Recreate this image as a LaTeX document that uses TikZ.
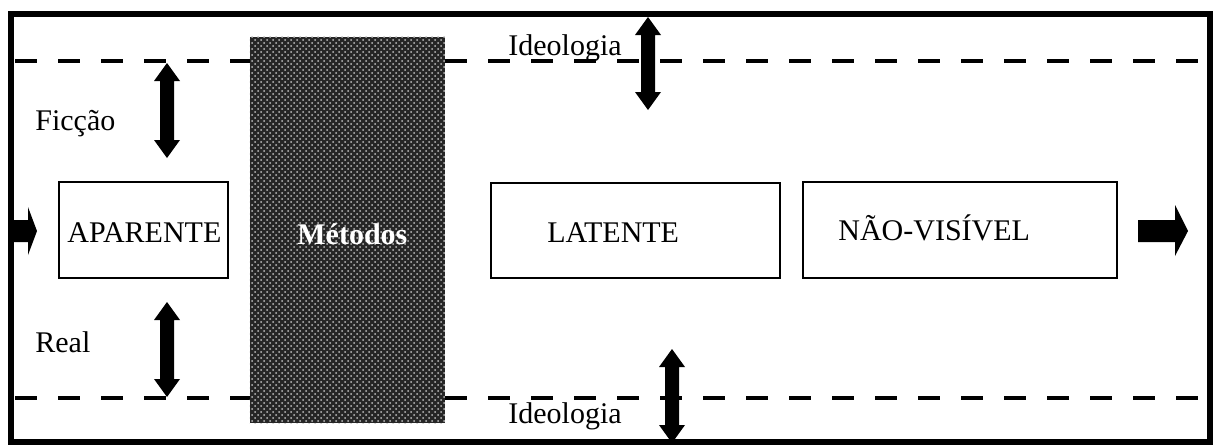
\documentclass[tikz,border=0pt]{standalone}
\usepackage{fontspec}
\setmainfont{Liberation Serif}
\usetikzlibrary{patterns}
\tikzset{
  frame/.style={line width=3pt},
  dashline/.style={line width=2pt, dash pattern=on 11pt off 10.5pt},
  box/.style={draw, line width=0.75pt, inner sep=0pt},
  txt/.style={inner sep=0pt, anchor=base west, font=\fontsize{15}{18}\selectfont},
  arrowfill/.style={fill=black},
  methodbox/.style={fill=black!85, draw=none},
}
\begin{document}
\begin{tikzpicture}[x=0.5pt,y=-0.5pt]
\useasboundingbox (0,0) rectangle (1215,445);
% dashed lines
\coordinate (tl) at (15,61); \coordinate (tr) at (1207,61);
\coordinate (bl) at (15,398); \coordinate (br) at (1207,398);
\draw[dashline] (tl) -- (tr);
\draw[dashline] (bl) -- (br);
% methods box
\node[methodbox, minimum width=97.5pt, minimum height=193pt, inner sep=0pt] (met) at (347.5,230) {};
\fill[pattern=crosshatch dots, pattern color=white!75!black] (met.north west) rectangle (met.south east);
\node[txt, text=white, font=\fontsize{15}{18}\selectfont\bfseries] (mettxt) at (297,244) {Métodos};
% boxes
\node[box, minimum width=84.5pt, minimum height=48pt] (apa) at (143.5,230) {};
\node[txt] (apatxt) at (67,242) {APARENTE};
\node[box, minimum width=144.5pt, minimum height=47.5pt] (lat) at (635.5,230.5) {};
\node[txt] (lattxt) at (547,242) {LATENTE};
\node[box, minimum width=157pt, minimum height=48pt] (nao) at (960,230) {};
\node[txt] (naotxt) at (838,240) {NÃO-VISÍVEL};
% labels
\node[txt] (fic) at (35,130) {Ficção};
\node[txt] (real) at (35,352) {Real};
\node[txt] (ideo1) at (508,55) {Ideologia};
\node[txt] (ideo2) at (508,423) {Ideologia};
% double arrows
\fill[arrowfill] (167,63) -- (180,81) -- (174,81) -- (174,140) -- (180,140) -- (167,158) -- (154,140) -- (160,140) -- (160,81) -- (154,81) -- cycle;
\fill[arrowfill] (167,302) -- (180,320) -- (174,320) -- (174,379) -- (180,379) -- (167,397) -- (154,379) -- (160,379) -- (160,320) -- (154,320) -- cycle;
\fill[arrowfill] (648,17) -- (661,35) -- (655,35) -- (655,92) -- (661,92) -- (648,110) -- (635,92) -- (641,92) -- (641,35) -- (635,35) -- cycle;
\fill[arrowfill] (672,349) -- (685,367) -- (679,367) -- (679,425) -- (685,425) -- (672,443) -- (659,425) -- (665,425) -- (665,367) -- (659,367) -- cycle;
% side arrows
\fill[arrowfill] (10,220) -- (28,220) -- (28,207) -- (37,231) -- (28,255) -- (28,242) -- (10,242) -- cycle;
\fill[arrowfill] (1138,220) -- (1175,220) -- (1175,205) -- (1188,231) -- (1175,256) -- (1175,242) -- (1138,242) -- cycle;
% frame
\draw[frame] (11,14) rectangle (1210,442);
\end{tikzpicture}
\end{document}
